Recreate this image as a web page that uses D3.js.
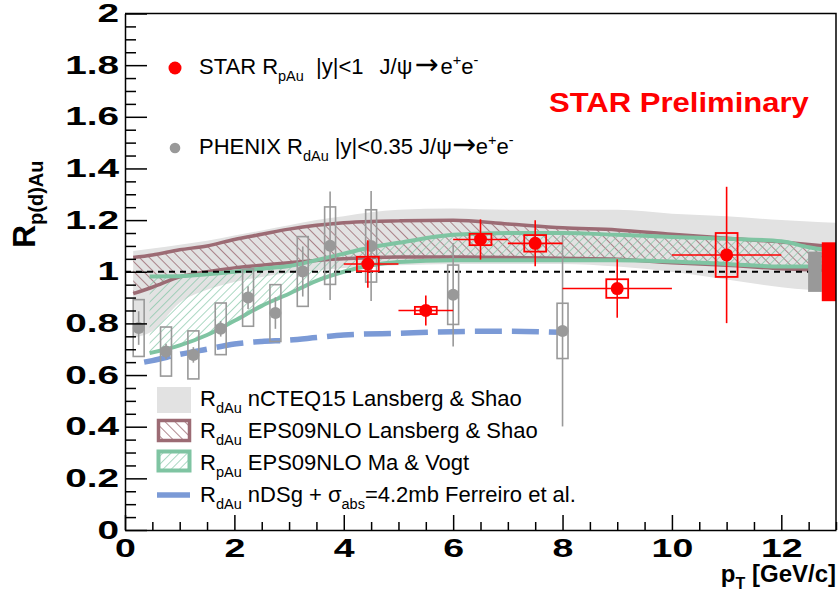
<!DOCTYPE html>
<html>
<head>
<meta charset="utf-8">
<script src="https://cdn.jsdelivr.net/npm/d3@7"></script>
<style>
  html, body { margin: 0; padding: 0; background: #fff; }
  svg { display: block; font-family: "Liberation Sans", Arial, Helvetica, sans-serif; }
</style>
</head>
<body>
<svg id="chart" width="838" height="594"></svg>
<script>
// ---- STAR p+Au J/psi (|y|<1) ----
const starX     = [4.44, 5.5, 6.5, 7.5, 9.0, 11.0];
const starY     = [1.03, 0.85, 1.125, 1.11, 0.935, 1.065];
const starXLo   = [4, 5, 6, 7, 8, 10];
const starXHi   = [5, 6, 7, 8, 10, 12];
const starStat  = [0.092, 0.058, 0.078, 0.089, 0.113, 0.264];
const starSys   = [0.028, 0.014, 0.022, 0.032, 0.036, 0.085];
const starGlobal = 0.114;

// ---- PHENIX d+Au J/psi (|y|<0.35) ----
const phxX    = [0.25, 0.75, 1.25, 1.75, 2.25, 2.75, 3.25, 3.75, 4.5, 6.0, 8.0];
const phxY    = [0.782, 0.691, 0.678, 0.779, 0.9, 0.84, 1.001, 1.101, 1.1, 0.911, 0.771];
const phxStat = [0.065, 0.03, 0.03, 0.03, 0.044, 0.061, 0.097, 0.21, 0.213, 0.2, 0.37];
const phxSys  = [0.11, 0.095, 0.093, 0.1, 0.111, 0.11, 0.135, 0.15, 0.14, 0.115, 0.107];
const phxGlobal = 0.078;

// ---- nCTEQ15 (Lansberg & Shao) ----
const ncteqX  = [0.15, 0.5, 1, 1.5, 2, 2.5, 3, 3.5, 4, 4.5, 5, 6, 7, 8, 9, 10, 11, 12, 12.5, 13];
const ncteqHi = [1.08, 1.09, 1.105, 1.12, 1.14, 1.16, 1.18, 1.2, 1.215, 1.23, 1.24, 1.245, 1.24, 1.24, 1.24, 1.225, 1.215, 1.2, 1.195, 1.19];
const ncteqLo = [0.745, 0.77, 0.88, 0.93, 0.96, 0.98, 0.995, 1.005, 1.015, 1.02, 1.025, 1.03, 1.03, 1.03, 1.02, 1.0, 0.97, 0.94, 0.93, 0.925];

// ---- EPS09NLO (Lansberg & Shao) ----
const epsLsX  = [0.15, 0.5, 1, 1.5, 2, 2.5, 3, 3.5, 4, 4.5, 5, 6, 7, 8, 9, 10, 11, 12, 12.8];
const epsLsHi = [1.055, 1.065, 1.085, 1.1, 1.125, 1.145, 1.165, 1.18, 1.19, 1.195, 1.197, 1.199, 1.185, 1.17, 1.162, 1.145, 1.13, 1.115, 1.1];
const epsLsLo = [0.915, 0.94, 0.98, 1.0, 1.015, 1.025, 1.035, 1.044, 1.05, 1.055, 1.057, 1.057, 1.055, 1.052, 1.048, 1.035, 1.025, 1.012, 1.006];

// ---- EPS09NLO (Ma & Vogt) ----
const epsMvX  = [0.45, 1, 1.5, 2, 2.5, 3, 3.5, 4, 4.5, 5, 6, 7, 8, 9, 10, 11, 12, 12.5, 12.8];
const epsMvHi = [0.982, 0.983, 0.99, 1.0, 1.012, 1.022, 1.045, 1.07, 1.095, 1.112, 1.143, 1.15, 1.15, 1.143, 1.135, 1.128, 1.118, 1.095, 1.085];
const epsMvLo = [0.685, 0.715, 0.755, 0.81, 0.868, 0.915, 0.965, 1.0, 1.025, 1.038, 1.045, 1.045, 1.045, 1.045, 1.04, 1.03, 1.02, 1.02, 1.02];

// ---- nDSg + sigma_abs = 4.2 mb (Ferreiro et al.) ----
const ndsgX = [0.35, 0.5, 1, 1.5, 2, 2.5, 3, 3.5, 4, 5, 6, 7, 8];
const ndsgY = [0.65, 0.656, 0.68, 0.70, 0.72, 0.73, 0.735, 0.745, 0.755, 0.762, 0.768, 0.77, 0.765];

// ---- axis ticks ----
const xMajor = [0, 2, 4, 6, 8, 10, 12];
const yMajor = [0, 0.2, 0.4, 0.6, 0.8, 1, 1.2, 1.4, 1.6, 1.8, 2];

const C = {
  red: "#ff0000",
  grey: "#999999",
  band: "#e2e2e2",
  pink: "#9c6b74",
  green: "#7fc4a2",
  blue: "#7b9ad6"
};

const svg = d3.select("#chart");
const x = d3.scaleLinear().domain([0, 13]).range([125, 836]);
const y = d3.scaleLinear().domain([0, 2]).range([530, 13.5]);

// hatch patterns
const defs = svg.append("defs");
function hatch(id, color, spacing, angle, width) {
  const p = defs.append("pattern")
    .attr("id", id).attr("patternUnits", "userSpaceOnUse")
    .attr("width", spacing).attr("height", spacing)
    .attr("patternTransform", `rotate(${angle})`);
  p.append("line").attr("x1", 0).attr("y1", 0).attr("x2", 0).attr("y2", spacing)
    .attr("stroke", color).attr("stroke-width", width);
}
hatch("hatchPink", C.pink, 7, -45, 1.6);
hatch("hatchGreen", C.green, 5.8, 45, 1.3);

const zip = (xs, a, b) => xs.map((v, i) => ({ x: v, hi: a[i], lo: b ? b[i] : null }));
const area = d3.area().x(d => x(d.x)).y0(d => y(d.lo)).y1(d => y(d.hi)).curve(d3.curveMonotoneX);
const lineHi = d3.line().x(d => x(d.x)).y(d => y(d.hi)).curve(d3.curveMonotoneX);
const lineLo = d3.line().x(d => x(d.x)).y(d => y(d.lo)).curve(d3.curveMonotoneX);

const plot = svg.append("g");

// nCTEQ15 band
const ncteq = zip(ncteqX, ncteqHi, ncteqLo);
plot.append("path").datum(ncteq).attr("d", area).attr("fill", C.band);

// EPS09NLO Lansberg & Shao band
const epsLs = zip(epsLsX, epsLsHi, epsLsLo);
plot.append("path").datum(epsLs).attr("d", area).attr("fill", "url(#hatchPink)");

// EPS09NLO Ma & Vogt band
const epsMv = zip(epsMvX, epsMvHi, epsMvLo);
plot.append("path").datum(epsMv).attr("d", area).attr("fill", "url(#hatchGreen)");

[lineHi, lineLo].forEach(l => {
  plot.append("path").datum(epsLs).attr("d", l).attr("fill", "none")
    .attr("stroke", C.pink).attr("stroke-width", 3.5);
});
[lineHi, lineLo].forEach(l => {
  plot.append("path").datum(epsMv).attr("d", l).attr("fill", "none")
    .attr("stroke", C.green).attr("stroke-width", 4);
});

// nDSg dashed curve
const ndsg = ndsgX.map((v, i) => ({ x: v, hi: ndsgY[i] }));
plot.append("path").datum(ndsg).attr("d", lineHi).attr("fill", "none")
  .attr("stroke", C.blue).attr("stroke-width", 5.5).attr("stroke-dasharray", "27,10");

// unity reference line
plot.append("line")
  .attr("x1", x(0)).attr("x2", x(12.5)).attr("y1", y(1)).attr("y2", y(1))
  .attr("stroke", "#000").attr("stroke-width", 2.2).attr("stroke-dasharray", "6,5");

// PHENIX points
const phx = phxX.map((v, i) => ({ x: v, y: phxY[i], stat: phxStat[i], sys: phxSys[i] }));
const gp = plot.append("g");
gp.selectAll("line.stat").data(phx).join("line")
  .attr("x1", d => x(d.x)).attr("x2", d => x(d.x))
  .attr("y1", d => y(d.y + d.stat)).attr("y2", d => y(d.y - d.stat))
  .attr("stroke", C.grey).attr("stroke-width", 1.6);
gp.selectAll("rect").data(phx).join("rect")
  .attr("x", d => x(d.x - 0.1)).attr("width", d => x(d.x + 0.1) - x(d.x - 0.1))
  .attr("y", d => y(d.y + d.sys)).attr("height", d => y(d.y - d.sys) - y(d.y + d.sys))
  .attr("fill", "none").attr("stroke", C.grey).attr("stroke-width", 1.6);
gp.selectAll("circle").data(phx).join("circle")
  .attr("cx", d => x(d.x)).attr("cy", d => y(d.y)).attr("r", 6)
  .attr("fill", C.grey);

// STAR points
const star = starX.map((v, i) => ({ x: v, y: starY[i], xlo: starXLo[i], xhi: starXHi[i], stat: starStat[i], sys: starSys[i] }));
const sp = plot.append("g");
sp.selectAll("line.h").data(star).join("line").attr("class", "h")
  .attr("x1", d => x(d.xlo)).attr("x2", d => x(d.xhi))
  .attr("y1", d => y(d.y)).attr("y2", d => y(d.y))
  .attr("stroke", C.red).attr("stroke-width", 1.6);
sp.selectAll("line.v").data(star).join("line").attr("class", "v")
  .attr("x1", d => x(d.x)).attr("x2", d => x(d.x))
  .attr("y1", d => y(d.y + d.stat)).attr("y2", d => y(d.y - d.stat))
  .attr("stroke", C.red).attr("stroke-width", 1.6);
sp.selectAll("rect").data(star).join("rect")
  .attr("x", d => x(d.x - 0.2)).attr("width", d => x(d.x + 0.2) - x(d.x - 0.2))
  .attr("y", d => y(d.y + d.sys)).attr("height", d => y(d.y - d.sys) - y(d.y + d.sys))
  .attr("fill", "none").attr("stroke", C.red).attr("stroke-width", 1.8);
sp.selectAll("circle").data(star).join("circle")
  .attr("cx", d => x(d.x)).attr("cy", d => y(d.y)).attr("r", 6.5)
  .attr("fill", C.red);

// global normalisation uncertainties
plot.append("rect")
  .attr("x", x(12.49)).attr("width", x(12.74) - x(12.49))
  .attr("y", y(1 + phxGlobal)).attr("height", y(1 - phxGlobal) - y(1 + phxGlobal))
  .attr("fill", C.grey);
plot.append("rect")
  .attr("x", x(12.74)).attr("width", x(13) - x(12.74))
  .attr("y", y(1 + starGlobal)).attr("height", y(1 - starGlobal) - y(1 + starGlobal))
  .attr("fill", C.red);

// axes (bold, wide tick labels)
const axisFont = (dx, sx) => g => g.selectAll("text")
  .attr("font-family", "'Liberation Sans', Arial, Helvetica, sans-serif")
  .attr("font-weight", "bold").attr("font-size", 25).attr("fill", "#000")
  .attr("x", 0)
  .attr("transform", `translate(${dx},0) scale(${sx},1)`);

const xMinor = d3.range(0, 13.01, 0.5).filter(v => !xMajor.includes(v));
const yMinor = d3.range(0, 2.001, 0.05).map(v => +v.toFixed(2)).filter(v => !yMajor.some(m => Math.abs(m - v) < 1e-6));

svg.append("g").attr("transform", `translate(0,${y(0)})`)
  .call(d3.axisBottom(x).tickValues(xMinor).tickSize(-8).tickFormat(""))
  .call(g => g.select(".domain").remove())
  .call(g => g.selectAll("line").attr("stroke-width", 1.5));
svg.append("g").attr("transform", `translate(0,${y(0)})`)
  .call(d3.axisBottom(x).tickValues(xMajor).tickSize(-15).tickSizeOuter(0).tickPadding(9).tickFormat(d3.format("d")))
  .call(g => g.select(".domain").attr("stroke-width", 1.5))
  .call(g => g.selectAll("line").attr("stroke-width", 1.5))
  .call(axisFont(0, 1.5));

svg.append("g").attr("transform", `translate(${x(0)},0)`)
  .call(d3.axisLeft(y).tickValues(yMinor).tickSize(-11).tickFormat(""))
  .call(g => g.select(".domain").remove())
  .call(g => g.selectAll("line").attr("stroke-width", 1.5));
svg.append("g").attr("transform", `translate(${x(0)},0)`)
  .call(d3.axisLeft(y).tickValues(yMajor).tickSize(-22).tickSizeOuter(0).tickFormat(d3.format("~g")))
  .call(g => g.select(".domain").attr("stroke-width", 1.5))
  .call(g => g.selectAll("line").attr("stroke-width", 1.5))
  .call(axisFont(-6, 1.55));

// frame top and right
svg.append("path")
  .attr("d", `M${x(0)},${y(2)}H${x(13)}V${y(0)}`)
  .attr("fill", "none").attr("stroke", "#000").attr("stroke-width", 1.5);

// axis titles
const yt = svg.append("text").attr("transform", "translate(35,248) rotate(-90)")
  .attr("font-weight", "bold").attr("font-size", 32);
yt.append("tspan").text("R");
yt.append("tspan").attr("dy", 8).attr("font-size", 20).text("p(d)Au");

const xt = svg.append("text").attr("x", 836).attr("y", 582).attr("text-anchor", "end")
  .attr("font-weight", "bold").attr("font-size", 24);
xt.append("tspan").text("p");
xt.append("tspan").attr("dy", 7).attr("font-size", 16).text("T");
xt.append("tspan").attr("dy", -7).text(" [GeV/c]");

// rich text helper: parts = [text, kind, dx] with kind in {"", "sub", "sup", "sym"}
function richText(sel, parts, size) {
  const subSize = size * 0.66;
  let shift = 0;
  parts.forEach(([t, k, dx]) => {
    const target = k === "sub" ? 7 : k === "sup" ? -9 : 0;
    const ts = sel.append("tspan").attr("dy", target - shift)
      .attr("font-size", k === "sub" || k === "sup" ? subSize : size).text(t);
    if (dx) ts.attr("dx", dx);
    if (k === "sym") ts.attr("font-family", "'DejaVu Sans', sans-serif").attr("font-size", size * 1.3);
    shift = target;
  });
}

// point legend
svg.append("circle").attr("cx", 175).attr("cy", 68).attr("r", 6.5).attr("fill", C.red);
richText(svg.append("text").attr("x", 199).attr("y", 74),
  [["STAR R", ""], ["pAu", "sub"], [" |y|<1", "", 6], [" J/ψ", "", 10], ["→", "sym", 2], ["e", "", 2], ["+", "sup"], ["e", ""], ["-", "sup"]], 22);
svg.append("circle").attr("cx", 175).attr("cy", 148).attr("r", 5.3).attr("fill", C.grey);
richText(svg.append("text").attr("x", 199).attr("y", 154),
  [["PHENIX R", ""], ["dAu", "sub"], [" |y|<0.35 J/ψ", ""], ["→", "sym"], ["e", ""], ["+", "sup"], ["e", ""], ["-", "sup"]], 22);

// preliminary label
svg.append("text").attr("transform", "translate(549,112) scale(1.15,1)").attr("font-weight", "bold")
  .attr("font-size", 27).attr("fill", C.red).text("STAR Preliminary");

// model legend
const legRows = [
  { y: 406, parts: [["R", ""], ["dAu", "sub"], [" nCTEQ15 Lansberg & Shao", ""]] },
  { y: 438, parts: [["R", ""], ["dAu", "sub"], [" EPS09NLO Lansberg & Shao", ""]] },
  { y: 470, parts: [["R", ""], ["pAu", "sub"], [" EPS09NLO Ma & Vogt", ""]] },
  { y: 502, parts: [["R", ""], ["dAu", "sub"], [" nDSg + σ", ""], ["abs", "sub"], ["=4.2mb Ferreiro et al.", ""]] }
];
legRows.forEach(r => richText(svg.append("text").attr("x", 200).attr("y", r.y), r.parts, 22));

svg.append("rect").attr("x", 157).attr("y", 387).attr("width", 34).attr("height", 26).attr("fill", C.band);
svg.append("rect").attr("x", 158.5).attr("y", 420.5).attr("width", 31).attr("height", 20)
  .attr("fill", "url(#hatchPink)").attr("stroke", C.pink).attr("stroke-width", 3.5);
svg.append("rect").attr("x", 158.5).attr("y", 451.5).attr("width", 31).attr("height", 19)
  .attr("fill", "url(#hatchGreen)").attr("stroke", C.green).attr("stroke-width", 4);
svg.append("line").attr("x1", 157).attr("x2", 190).attr("y1", 495).attr("y2", 495)
  .attr("stroke", C.blue).attr("stroke-width", 5.5);
</script>
</body>
</html>
